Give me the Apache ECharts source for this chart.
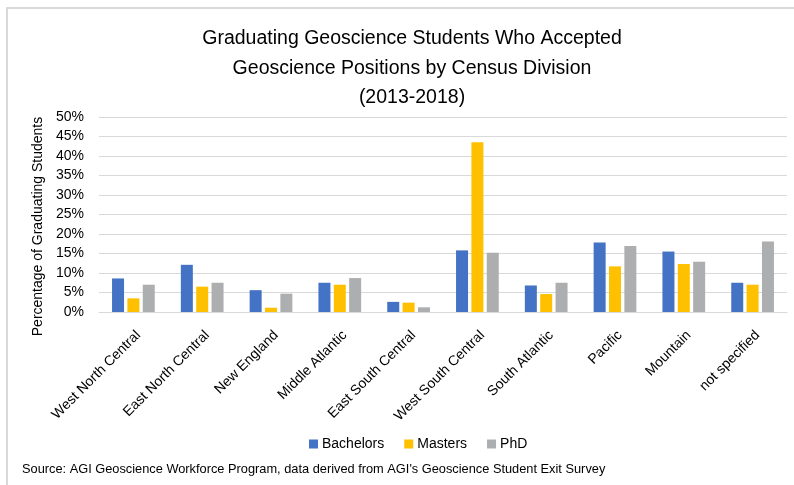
<!DOCTYPE html>
<html>
<head>
<meta charset="utf-8">
<script src="https://cdn.jsdelivr.net/npm/echarts@6/dist/echarts.min.js"></script>
<style>
  html, body { margin: 0; padding: 0; background: #fff; }
  #chart { width: 794px; height: 485px; }
</style>
</head>
<body>
<div id="chart"></div>
<script>
// census divisions (x axis)
var divisions = ['West North Central', 'East North Central', 'New England', 'Middle Atlantic',
  'East South Central', 'West South Central', 'South Atlantic', 'Pacific', 'Mountain', 'not specified']

// percentage of graduating students
var bachelors = [8.6, 12.1, 5.6, 7.5, 2.6, 15.8, 6.8, 17.8, 15.5, 7.5]
var masters = [3.5, 6.5, 1.1, 7.0, 2.4, 43.5, 4.6, 11.7, 12.3, 7.0]
var phd = [7.0, 7.5, 4.7, 8.7, 1.2, 15.2, 7.5, 16.9, 12.9, 18.1]

var seriesNames = ['Bachelors', 'Masters', 'PhD']
var seriesColors = ['#4472C4', '#FFC000', '#ADAEB0']

var titleText = 'Graduating Geoscience Students Who Accepted\nGeoscience Positions by Census Division\n(2013-2018)'
var sourceText = "Source: AGI Geoscience Workforce Program, data derived from AGI's Geoscience Student Exit Survey"

var font = '"Liberation Sans", Arial, sans-serif'
var chart = echarts.init(document.getElementById('chart'))

var makeSeries = function(name, data, color, idx) {
  var s = {
    name: name,
    type: 'bar',
    data: data,
    barWidth: 12,
    itemStyle: { color: color }
  }
  if (idx === 0) s.barGap = '28%'
  return s
}

chart.setOption({
  animation: false,
  color: seriesColors,
  textStyle: { fontFamily: font },
  title: {
    text: titleText,
    left: 407,
    textAlign: 'center',
    top: 19,
    textStyle: { fontFamily: font, fontSize: 19.5, fontWeight: 'normal', color: '#000', lineHeight: 29.5 }
  },
  graphic: [
    {
      type: 'rect',
      shape: { x: 7, y: 8, width: 800, height: 500 },
      style: { fill: 'none', stroke: '#D9D9D9', lineWidth: 2 },
      silent: true
    },
    {
      type: 'text',
      left: 22,
      top: 463,
      style: { text: sourceText, fontFamily: font, fontSize: 12.8, fill: '#000' }
    }
  ],
  legend: {
    data: seriesNames,
    left: 304,
    top: 432,
    itemWidth: 9,
    itemHeight: 9,
    itemGap: 20,
    icon: 'rect',
    textStyle: { fontFamily: font, fontSize: 14, color: '#000', padding: [0, 0, 0, -1] }
  },
  grid: { left: 99, right: 7, top: 117, bottom: 173 },
  xAxis: {
    type: 'category',
    data: divisions,
    axisLine: { lineStyle: { color: '#D9D9D9', width: 1 } },
    axisTick: { show: false },
    axisLabel: {
      interval: 0,
      rotate: 45,
      margin: 16,
      verticalAlign: 'top',
      fontFamily: font,
      fontSize: 14,
      color: '#000'
    }
  },
  yAxis: {
    type: 'value',
    min: 0,
    max: 50,
    interval: 5,
    name: 'Percentage of Graduating Students',
    nameLocation: 'middle',
    nameGap: 46,
    nameTextStyle: { fontFamily: font, fontSize: 14, color: '#000', padding: [0, 24, 0, 0] },
    axisLine: { show: false },
    axisTick: { show: false },
    splitLine: { lineStyle: { color: '#D9D9D9', width: 1 } },
    axisLabel: {
      margin: 15,
      fontFamily: font,
      fontSize: 14,
      color: '#000',
      formatter: '{value}%'
    }
  },
  series: [
    makeSeries(seriesNames[0], bachelors, seriesColors[0], 0),
    makeSeries(seriesNames[1], masters, seriesColors[1], 1),
    makeSeries(seriesNames[2], phd, seriesColors[2], 2)
  ]
})
</script>
</body>
</html>
